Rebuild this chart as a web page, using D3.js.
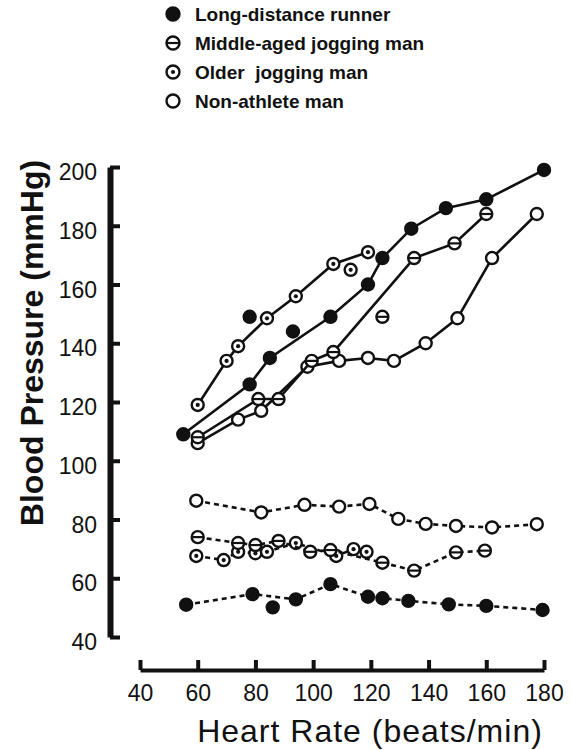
<!DOCTYPE html>
<html><head><meta charset="utf-8">
<script src="https://cdn.jsdelivr.net/npm/d3@7"></script>
<style>body{margin:0;background:#fff} svg{display:block}</style>
</head><body>
<script>
// ---- data ----
const legendLabels = ["Long-distance runner", "Middle-aged jogging man", "Older  jogging man", "Non-athlete man"];
const legendKinds  = ["filled", "bar", "dot", "open"];
const xTicks = [40, 60, 80, 100, 120, 140, 160, 180];
const yTicks = [40, 60, 80, 100, 120, 140, 160, 180, 200];

// systolic (solid lines)
const runnerSysHR = [55, 78, 85, 106, 119, 124, 134, 146, 160, 180];
const runnerSysBP = [109, 126, 135, 149, 160, 169, 179, 186, 189, 199];
const runnerSysExtraHR = [78, 93];
const runnerSysExtraBP = [149, 144];

const middleSysHR = [60, 81, 88, 99.5, 107, 135, 149, 160];
const middleSysBP = [108, 121, 121, 134, 137, 169, 174, 184];
const middleSysExtraHR = [124];
const middleSysExtraBP = [149];

const olderSysHR = [60, 70, 74, 84, 94, 107, 119];
const olderSysBP = [119, 134, 139, 148.5, 156, 167, 171];
const olderSysExtraHR = [113];
const olderSysExtraBP = [165];

const nonSysHR = [60, 74, 82, 98, 109, 119, 128, 139, 150, 162, 177.5];
const nonSysBP = [106, 114, 117, 132, 134, 135, 134, 140, 148.5, 169, 184];

// diastolic (dashed lines)
const runnerDiaHR = [56, 79, 94, 106, 119, 124, 133, 147, 160, 179.5];
const runnerDiaBP = [51, 54.6, 52.8, 58, 53.7, 53.2, 52.3, 51.1, 50.6, 49.2];
const runnerDiaExtraHR = [86];
const runnerDiaExtraBP = [50.1];

const middleDiaHR = [60, 74, 80, 88, 99, 106, 124, 135, 149.5, 159.5];
const middleDiaBP = [74, 72, 71.3, 72.7, 69, 69.6, 65.3, 62.6, 68.8, 69.4];

const olderDiaHR = [59.5, 69, 74, 80, 84, 94, 108, 114, 118.5];
const olderDiaBP = [67.6, 66.2, 69, 68.5, 69, 72, 67.6, 69.9, 69];

const nonDiaHR = [59.5, 82, 97, 109, 119.5, 129.5, 139, 149.5, 162, 177.5];
const nonDiaBP = [86.4, 82.4, 85, 84.4, 85.3, 80.2, 78.5, 77.8, 77.3, 78.4];

// ---- drawing ----
const W = 571, H = 750;
const FONT = "'Liberation Sans', Arial, sans-serif";
const svg = d3.select("body").append("svg").attr("width", W).attr("height", H)
  .style("font-family", FONT);
const x = d3.scaleLinear().domain([40, 180]).range([140, 544]);
const y = d3.scaleLinear().domain([40, 200]).range([637, 167]);

const zip = (a, b) => a.map((v, i) => [v, b[i]]);
const line = d3.line().x(d => x(d[0])).y(d => y(d[1]));

function drawMarker(g, cx, cy, kind, r = 6) {
  const m = g.append("g");
  m.append("circle").attr("cx", cx).attr("cy", cy).attr("r", r)
    .attr("fill", kind === "filled" ? "#111" : "#fff")
    .attr("stroke", "#111").attr("stroke-width", 2.4);
  if (kind === "bar") {
    m.append("line").attr("x1", cx - r).attr("x2", cx + r).attr("y1", cy).attr("y2", cy)
      .attr("stroke", "#111").attr("stroke-width", 2.2);
  } else if (kind === "dot") {
    m.append("circle").attr("cx", cx).attr("cy", cy).attr("r", 2.1).attr("fill", "#111");
  }
}

function series(hr, bp, kind, dashed, exHR, exBP) {
  const pts = zip(hr, bp);
  const g = svg.append("g");
  g.append("path").attr("d", line(pts)).attr("fill", "none")
    .attr("stroke", "#111").attr("stroke-width", 2.6)
    .attr("stroke-dasharray", dashed ? "5,4" : null);
  const all = exHR ? pts.concat(zip(exHR, exBP)) : pts;
  all.forEach(p => drawMarker(g, x(p[0]), y(p[1]), kind));
}

// axes
const yAxis = svg.append("g").attr("transform", "translate(110,0)")
  .call(d3.axisLeft(y).tickValues(yTicks).tickSize(-10).tickSizeOuter(0).tickPadding(13));
yAxis.select(".domain").attr("stroke", "#111").attr("stroke-width", 6);
yAxis.selectAll(".tick line").attr("stroke", "#111").attr("stroke-width", 4);
yAxis.selectAll(".tick text").attr("fill", "#111").attr("font-size", 23).attr("dy", "0.55em")
  .style("font-family", FONT);

const xAxis = svg.append("g").attr("transform", "translate(0,670)")
  .call(d3.axisBottom(x).tickValues(xTicks).tickSize(-10).tickSizeOuter(0).tickPadding(15));
xAxis.select(".domain").attr("stroke", "#111").attr("stroke-width", 4);
xAxis.selectAll(".tick line").attr("stroke", "#111").attr("stroke-width", 4);
xAxis.selectAll(".tick text").attr("fill", "#111").attr("font-size", 23)
  .style("font-family", FONT);

// titles
svg.append("text").attr("x", 370).attr("y", 742).attr("text-anchor", "middle")
  .attr("font-size", 32).attr("letter-spacing", 1).attr("fill", "#111")
  .text("Heart Rate (beats/min)");
svg.append("text").attr("transform", "translate(43,343) rotate(-90)")
  .attr("text-anchor", "middle").attr("font-size", 32).attr("font-weight", "bold")
  .attr("fill", "#111").text("Blood Pressure (mmHg)");

// series
series(nonSysHR, nonSysBP, "open", false);
series(middleSysHR, middleSysBP, "bar", false, middleSysExtraHR, middleSysExtraBP);
series(olderSysHR, olderSysBP, "dot", false, olderSysExtraHR, olderSysExtraBP);
series(runnerSysHR, runnerSysBP, "filled", false, runnerSysExtraHR, runnerSysExtraBP);

series(nonDiaHR, nonDiaBP, "open", true);
series(olderDiaHR, olderDiaBP, "dot", true);
series(middleDiaHR, middleDiaBP, "bar", true);
series(runnerDiaHR, runnerDiaBP, "filled", true, runnerDiaExtraHR, runnerDiaExtraBP);

// legend
const lg = svg.append("g");
legendLabels.forEach((lab, i) => {
  const cy = 14 + i * 29;
  drawMarker(lg, 173, cy, legendKinds[i], 6.5);
  lg.append("text").attr("x", 195).attr("y", cy + 7).attr("font-size", 19)
    .attr("font-weight", "bold").attr("fill", "#111")
    .style("white-space", "pre").text(lab);
});
</script>
</body></html>
